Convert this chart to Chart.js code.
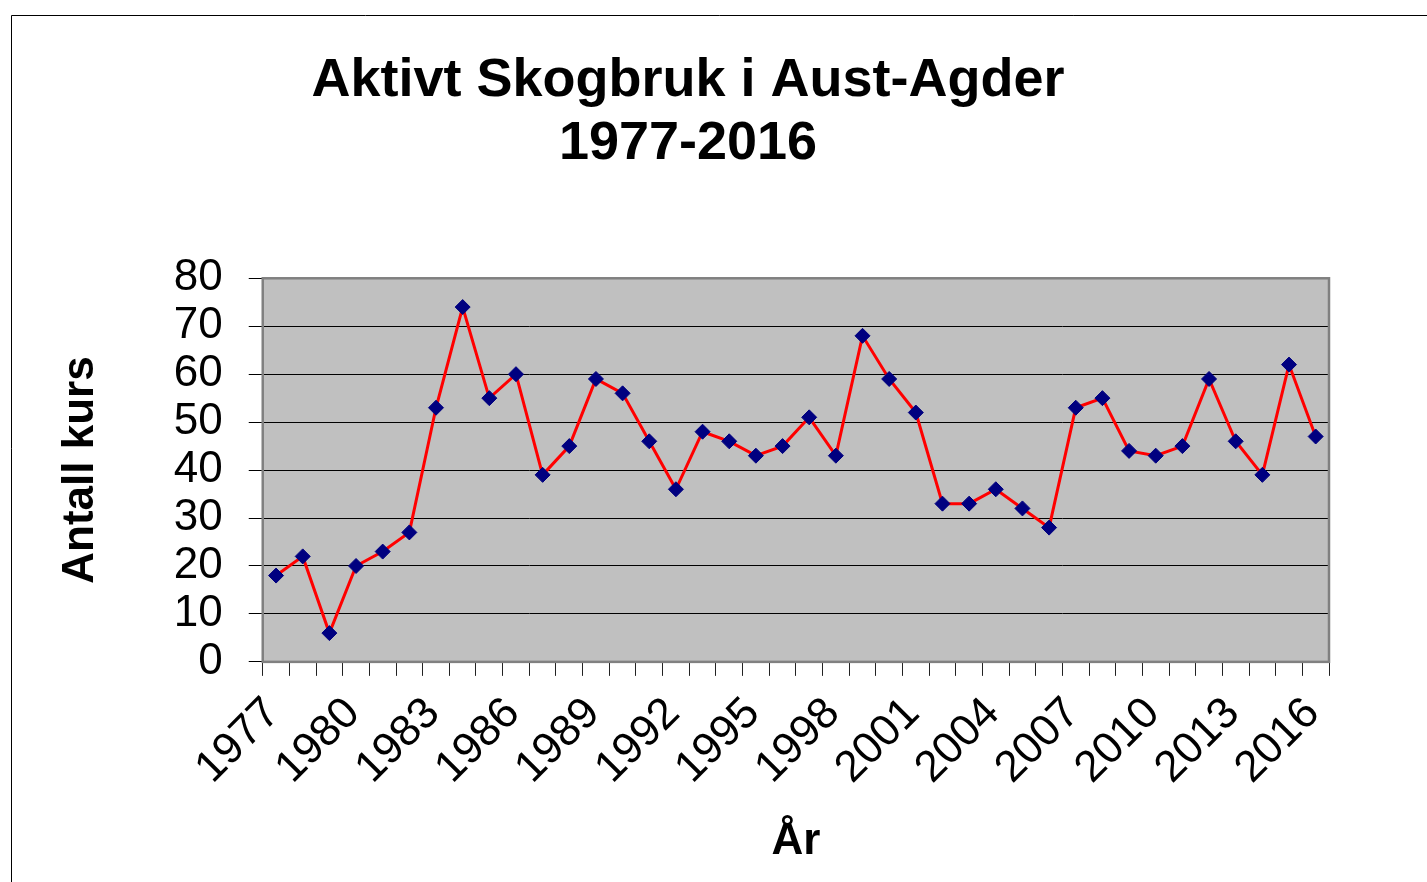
<!DOCTYPE html>
<html><head><meta charset="utf-8">
<script src="https://cdn.jsdelivr.net/npm/chart.js@4.4.1/dist/chart.umd.min.js"></script>
<style>html,body{margin:0;padding:0;background:#fff;}canvas{display:block;}</style>
</head><body>
<canvas id="c" width="1427" height="882"></canvas>
<script>
const chartTitle = ['Aktivt Skogbruk i Aust-Agder', '1977-2016'];
const xTitle = 'År';
const yTitle = 'Antall kurs';
const years = ['1977','1978','1979','1980','1981','1982','1983','1984','1985','1986',
  '1987','1988','1989','1990','1991','1992','1993','1994','1995','1996',
  '1997','1998','1999','2000','2001','2002','2003','2004','2005','2006',
  '2007','2008','2009','2010','2011','2012','2013','2014','2015','2016'];
const kurs = [18,22,6,20,23,27,53,74,55,60,
  39,45,59,56,46,36,48,46,43,45,
  51,43,68,59,52,33,33,36,32,28,
  53,55,44,43,45,59,46,39,62,47];
const shownYearLabels = ['1977','1980','1983','1986','1989','1992','1995','1998','2001','2004','2007','2010','2013','2016'];
const yMin = 0, yMax = 80, yStep = 10;

const FONT = '"Liberation Sans", Arial, sans-serif';

const decor = {
  id: 'decor',
  beforeDraw(chart) {
    const {ctx, chartArea: a} = chart;
    ctx.save();
    ctx.fillStyle = '#ffffff';
    ctx.fillRect(0, 0, chart.width, chart.height);
    ctx.strokeStyle = '#000000';
    ctx.lineWidth = 1;
    ctx.beginPath();
    ctx.moveTo(11.5, chart.height);
    ctx.lineTo(11.5, 15.5);
    ctx.lineTo(chart.width, 15.5);
    ctx.stroke();
    ctx.fillStyle = '#C0C0C0';
    ctx.fillRect(a.left, a.top, a.right - a.left, a.bottom - a.top);
    ctx.restore();
  },
  beforeDatasetsDraw(chart) {
    const {ctx, chartArea: a} = chart;
    ctx.save();
    ctx.strokeStyle = '#808080';
    ctx.lineWidth = 2.5;
    ctx.strokeRect(a.left, a.top, a.right - a.left, a.bottom - a.top);
    ctx.restore();
  }
};

new Chart(document.getElementById('c'), {
  type: 'line',
  data: {
    labels: years,
    datasets: [{
      data: kurs,
      borderColor: '#FF0000',
      borderWidth: 3,
      pointStyle: 'rectRot',
      pointRadius: 7.5,
      pointBackgroundColor: '#000080',
      pointBorderColor: '#000080',
      pointBorderWidth: 1,
      tension: 0,
      fill: false
    }]
  },
  options: {
    responsive: false,
    animation: false,
    layout: { padding: { left: 12, right: 63, top: 16, bottom: 8 } },
    plugins: {
      legend: { display: false },
      tooltip: { enabled: false },
      title: {
        display: true,
        text: chartTitle,
        color: '#000',
        font: { family: FONT, size: 54, weight: 'bold', lineHeight: 1.16 },
        padding: { top: 34, bottom: 103 }
      }
    },
    scales: {
      x: {
        type: 'category',
        offset: true,
        grid: {
          display: true, offset: true, drawOnChartArea: false, drawTicks: true,
          tickLength: 14, tickColor: '#222', color: '#222', lineWidth: 1
        },
        border: { display: false },
        ticks: {
          autoSkip: false, maxRotation: 45, minRotation: 45,
          padding: 15, labelOffset: -3,
          color: '#000',
          font: { family: FONT, size: 44, lineHeight: 1.0 },
          callback(v, i) { const l = years[i]; return shownYearLabels.includes(l) ? l : ''; }
        },
        title: {
          display: true, text: xTitle, color: '#000',
          font: { family: FONT, size: 44, weight: 'bold' },
          padding: { top: 9, bottom: 6 }
        }
      },
      y: {
        min: yMin, max: yMax,
        grid: { color: '#000', lineWidth: 1, tickLength: 14, tickColor: '#000' },
        border: { display: false },
        ticks: {
          autoSkip: false,
          stepSize: yStep, padding: 26, color: '#000',
          font: { family: FONT, size: 44 }
        },
        title: {
          display: true, text: yTitle, color: '#000',
          font: { family: FONT, size: 44, weight: 'bold' },
          padding: { top: 42, bottom: 41 }
        }
      },
      ySpacer: {
        position: 'right',
        display: true,
        grid: { display: false },
        border: { display: false },
        ticks: { display: false },
        afterFit(scale) { scale.width = 35; }
      }
    }
  },
  plugins: [decor]
});
</script>
</body></html>
